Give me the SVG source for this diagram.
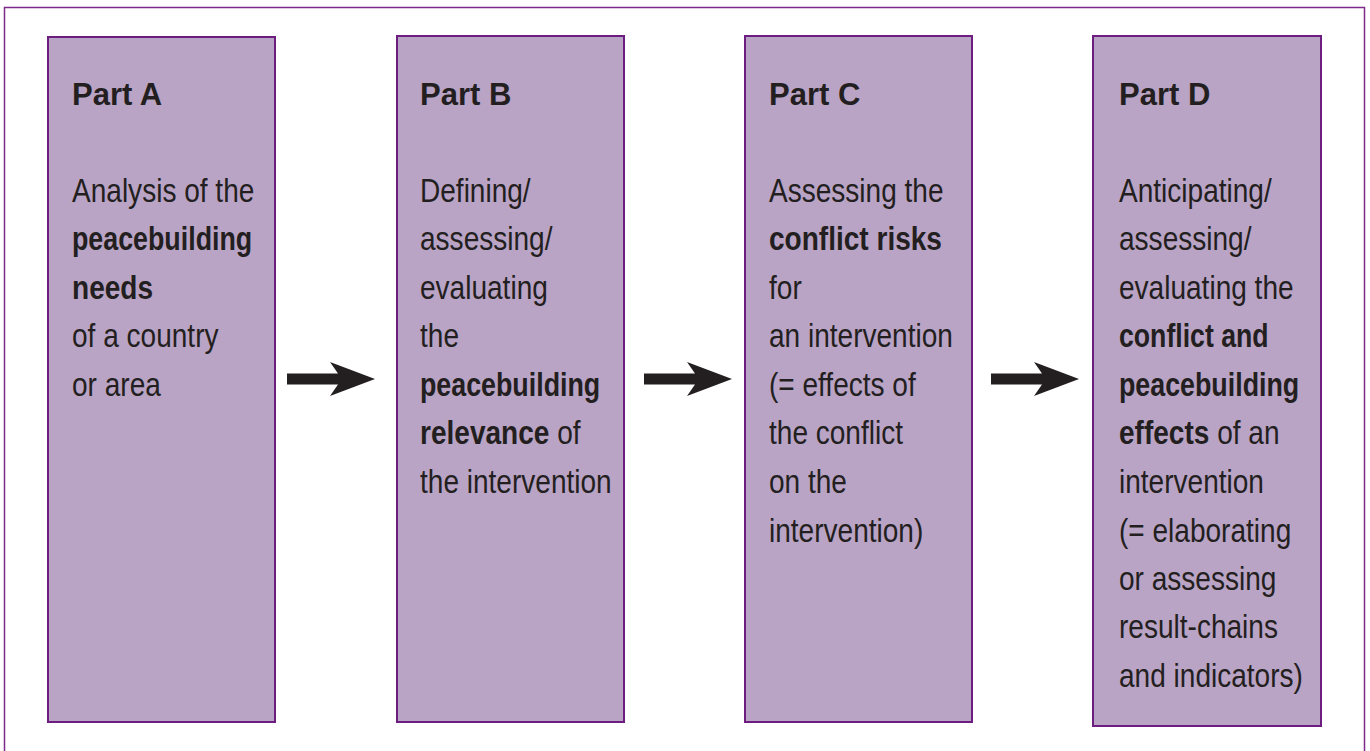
<svg xmlns="http://www.w3.org/2000/svg" width="1370" height="751" viewBox="0 0 1370 751">
<style>
.frame{fill:none;stroke:#7d2a8a;stroke-width:1.5}
.box{fill:#baa4c6;stroke:#6c1d7f;stroke-width:2}
.h{font-family:"Liberation Sans",Arial,sans-serif;font-weight:bold;font-size:31px;fill:#231f20}
.t{font-family:"Liberation Sans",Arial,sans-serif;font-size:33px;fill:#231f20}
.bd{font-weight:bold}
.arrow{fill:#231f20}
</style>
<defs>
<path id="arr" d="M0,-5.5 L51,-5.5 L43,-17 L88,0 L43,17 L51,5.5 L0,5.5 Z"/>
</defs>
<rect class="frame" x="4.5" y="7.5" width="1360" height="760"/>
<g id="part-a">
<rect class="box" x="48" y="37" width="227" height="685"/>
<text class="h" x="72" y="105">Part A</text>
<g transform="translate(72,0) scale(0.85,1)">
<text class="t" x="0" y="202">Analysis of the</text>
<text class="t bd" x="0" y="250.5" textLength="212" lengthAdjust="spacingAndGlyphs">peacebuilding</text>
<text class="t bd" x="0" y="299">needs</text>
<text class="t" x="0" y="347.5">of a country</text>
<text class="t" x="0" y="396">or area</text>
</g>
</g>
<g id="part-b">
<rect class="box" x="397" y="36" width="227" height="686"/>
<text class="h" x="420" y="105">Part B</text>
<g transform="translate(420,0) scale(0.85,1)">
<text class="t" x="0" y="202">Defining/</text>
<text class="t" x="0" y="250.5">assessing/</text>
<text class="t" x="0" y="299">evaluating</text>
<text class="t" x="0" y="347.5">the</text>
<text class="t bd" x="0" y="396" textLength="212" lengthAdjust="spacingAndGlyphs">peacebuilding</text>
<text class="t" x="0" y="444.5"><tspan class="bd">relevance</tspan> of</text>
<text class="t" x="0" y="493">the intervention</text>
</g>
</g>
<g id="part-c">
<rect class="box" x="745" y="36" width="227" height="686"/>
<text class="h" x="769" y="105">Part C</text>
<g transform="translate(769,0) scale(0.85,1)">
<text class="t" x="0" y="202">Assessing the</text>
<text class="t bd" x="0" y="250.5">conflict risks</text>
<text class="t" x="0" y="299">for</text>
<text class="t" x="0" y="347.5">an intervention</text>
<text class="t" x="0" y="396">(= effects of</text>
<text class="t" x="0" y="444.5">the conflict</text>
<text class="t" x="0" y="493">on the</text>
<text class="t" x="0" y="541.5">intervention)</text>
</g>
</g>
<g id="part-d">
<rect class="box" x="1093" y="36" width="228" height="690"/>
<text class="h" x="1119" y="105">Part D</text>
<g transform="translate(1119,0) scale(0.85,1)">
<text class="t" x="0" y="202">Anticipating/</text>
<text class="t" x="0" y="250.5">assessing/</text>
<text class="t" x="0" y="299">evaluating the</text>
<text class="t bd" x="0" y="347.5" textLength="176" lengthAdjust="spacingAndGlyphs">conflict and</text>
<text class="t bd" x="0" y="396" textLength="212" lengthAdjust="spacingAndGlyphs">peacebuilding</text>
<text class="t" x="0" y="444.5"><tspan class="bd">effects</tspan> of an</text>
<text class="t" x="0" y="493">intervention</text>
<text class="t" x="0" y="541.5">(= elaborating</text>
<text class="t" x="0" y="590">or assessing</text>
<text class="t" x="0" y="638.5">result-chains</text>
<text class="t" x="0" y="687">and indicators)</text>
</g>
</g>
<g id="connectors">
<use class="arrow" href="#arr" x="287" y="379"/>
<use class="arrow" href="#arr" x="644" y="379"/>
<use class="arrow" href="#arr" x="991" y="379"/>
</g>
</svg>
